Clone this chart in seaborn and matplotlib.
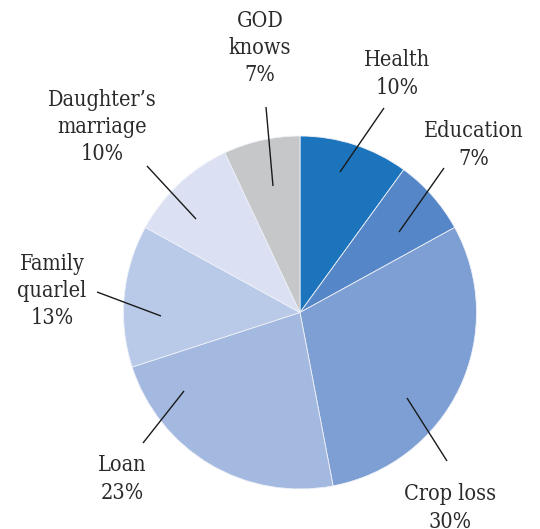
import matplotlib
matplotlib.use("Agg")
import matplotlib.pyplot as plt
import seaborn as sns

sns.set_theme(style="white")
plt.rcParams["font.family"] = ["DejaVu Serif", "DejaVu Sans"]

# Reasons and their shares (percent)
reasons = ["Health", "Education", "Crop loss", "Loan",
           "Family\nquarlel", "Daughter\u2019s\nmarriage", "GOD\nknows"]
shares = [10, 7, 30, 23, 13, 10, 7]
colors = ["#1c75bc", "#5587c8", "#7d9fd3", "#a4b9e0",
          "#b9c9e8", "#dbe1f3", "#c6c7c9"]

# Label block centres and leader-line ends, in pixel units (y from top)
label_xy = [(397, 74), (474, 145), (450, 508), (122, 479),
            (52, 291), (102, 127), (260, 48)]
line_outer = [(384, 108), (444, 168), (447, 461), (143, 443),
              (97, 292), (147, 166), (266, 107)]
line_inner = [(340, 172), (399, 232), (407, 398), (184, 391),
              (161, 316), (196, 219), (273, 186)]

W, H = 540, 529
fig = plt.figure(figsize=(W / 100, H / 100), dpi=100)
ax = fig.add_axes([0, 0, 1, 1])

# y axis runs downward, so the pie is drawn counter-clockwise from -90
# degrees to appear clockwise from twelve o'clock
ax.pie(shares, colors=colors, startangle=-90, counterclock=True,
       radius=176.5, center=(300, 312.5),
       wedgeprops=dict(linewidth=0.6, edgecolor="#eef1f8"))

ax.set_xlim(0, W)
ax.set_ylim(H, 0)
ax.set_aspect("equal")
ax.axis("off")

for name, share, (tx, ty), p0, p1 in zip(reasons, shares, label_xy,
                                         line_outer, line_inner):
    ax.plot([p0[0], p1[0]], [p0[1], p1[1]], color="#1a1a1a", lw=1.0,
            solid_capstyle="butt")
    ax.text(tx, ty, f"{name}\n{share}%", ha="center", va="center",
            fontsize=15.5, fontstretch="condensed", color="#2a2a2a",
            linespacing=1.3)

fig.savefig("out.png", dpi=100, facecolor="white")
